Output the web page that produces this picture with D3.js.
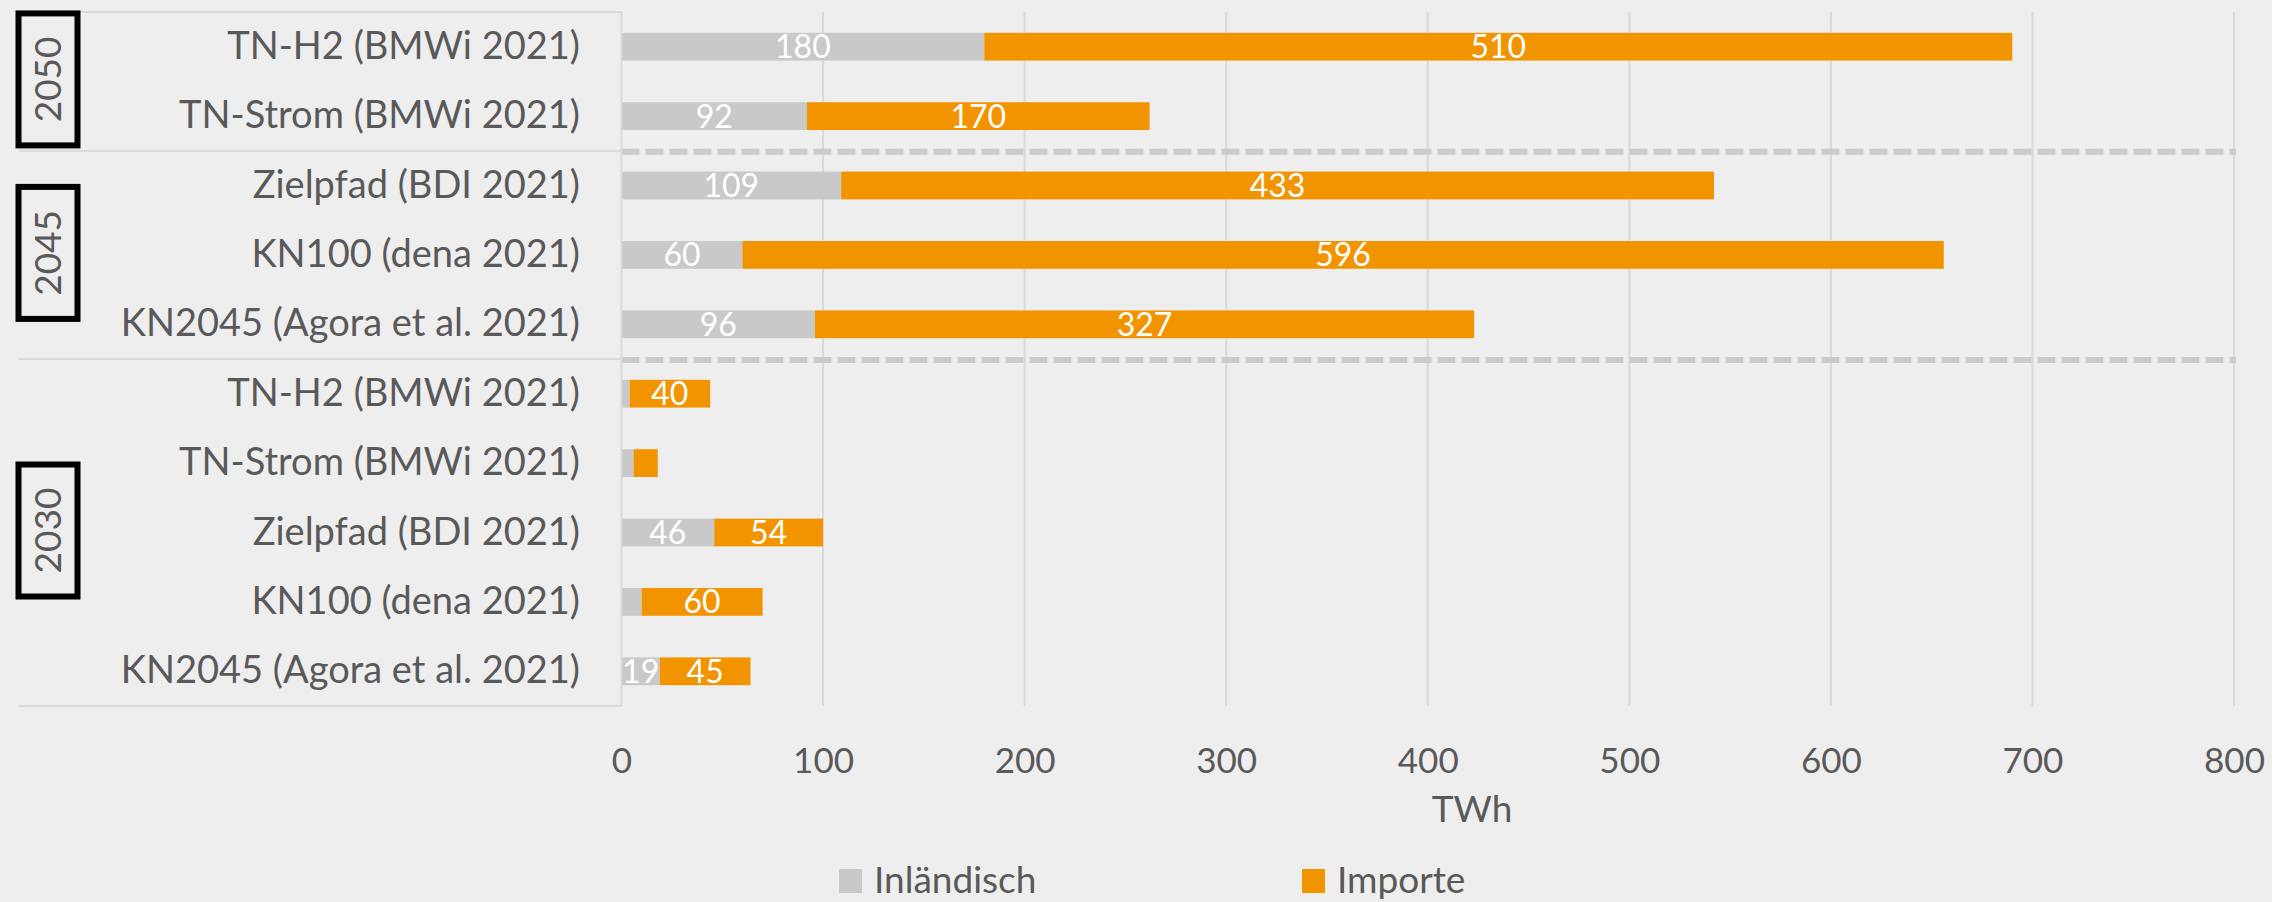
<!DOCTYPE html>
<html>
<head>
<meta charset="utf-8">
<script src="https://cdn.jsdelivr.net/npm/d3@7"></script>
<style>
  html,body{margin:0;padding:0;background:#eeeeee;}
  svg{display:block;font-family:Lato,"Open Sans",sans-serif;}
</style>
</head>
<body>
<svg id="chart" width="2272" height="902"></svg>
<script>
// scenarios, top to bottom
const labels=["TN-H2 (BMWi 2021)","TN-Strom (BMWi 2021)","Zielpfad (BDI 2021)","KN100 (dena 2021)","KN2045 (Agora et al. 2021)",
  "TN-H2 (BMWi 2021)","TN-Strom (BMWi 2021)","Zielpfad (BDI 2021)","KN100 (dena 2021)","KN2045 (Agora et al. 2021)"]
const rowYear=["2050","2050","2045","2045","2045","2030","2030","2030","2030","2030"]
const years=["2050","2045","2030"]
const inland=[180,92,109,60,96,4,6,46,10,19]
const importe=[510,170,433,596,327,40,12,54,60,45]
const ticks=[0,100,200,300,400,500,600,700,800]
const seriesNames=["Inländisch","Importe"]
const colors=["#c9c9c9","#f29400"]

const svg=d3.select("#chart")
const x=d3.scaleLinear().domain([0,800]).range([621.5,2234])
const idx=d3.range(labels.length)
const y=d3.scaleBand().domain(idx).range([12,706]).paddingInner(0.6).paddingOuter(0.3)
const step=y.step()
const top0=y.range()[0]

// gridlines
svg.append("g").selectAll("line").data(ticks.slice(1)).join("line")
  .attr("x1",d=>x(d)).attr("x2",d=>x(d)).attr("y1",12).attr("y2",706)
  .attr("stroke","#d9d9d9").attr("stroke-width",2)

// group boundaries (index where new year starts)
const bounds=idx.filter(i=>i>0 && rowYear[i]!==rowYear[i-1])

// left panel lines
svg.append("g").selectAll("line").data([0,...bounds,labels.length]).join("line")
  .attr("x1",19).attr("x2",x(0))
  .attr("y1",d=>top0+d*step).attr("y2",d=>top0+d*step)
  .attr("stroke","#d9d9d9").attr("stroke-width",2)

// dashed separators
svg.append("g").selectAll("line").data(bounds).join("line")
  .attr("x1",x(0)).attr("x2",x(800)+2)
  .attr("y1",d=>top0+d*step+1).attr("y2",d=>top0+d*step+1)
  .attr("stroke","#cbcbcb").attr("stroke-width",6).attr("stroke-dasharray","18,6")

// stacked bars
const table=idx.map(i=>({i,inland:inland[i],importe:importe[i]}))
const stack=d3.stack().keys(["inland","importe"])(table)
const layers=svg.append("g").selectAll("g").data(stack).join("g").attr("fill",(d,k)=>colors[k])
layers.selectAll("rect").data(d=>d).join("rect")
  .attr("x",d=>x(d[0])).attr("width",d=>x(d[1])-x(d[0]))
  .attr("y",d=>y(d.data.i)).attr("height",y.bandwidth())

// value labels
layers.selectAll("text").data(d=>d.filter(s=>s[1]-s[0]>=15)).join("text")
  .attr("x",d=>(x(d[0])+x(d[1]))/2).attr("y",d=>y(d.data.i)+y.bandwidth()/2)
  .attr("dy","0.36em").attr("text-anchor","middle")
  .attr("fill","#ffffff").attr("font-size",32)
  .text(d=>d[1]-d[0])

// zero axis line
svg.append("line").attr("x1",x(0)).attr("x2",x(0)).attr("y1",12).attr("y2",706)
  .attr("stroke","#d9d9d9").attr("stroke-width",2)

// category labels
svg.append("g").selectAll("text").data(idx).join("text")
  .attr("x",580).attr("y",i=>y(i)+y.bandwidth()/2+12)
  .attr("text-anchor","end").attr("fill","#595959").attr("font-size",38)
  .text(i=>labels[i])

// year boxes
const groups=years.map(yr=>{
  const rows=idx.filter(i=>rowYear[i]===yr)
  return {yr,c:top0+(d3.min(rows)+d3.max(rows)+1)/2*step}
})
const yb=svg.append("g").selectAll("g").data(groups).join("g")
  .attr("transform",d=>`translate(48,${d.c-2})`)
yb.append("rect").attr("x",-29.5).attr("y",-66).attr("width",59).attr("height",132)
  .attr("fill","#eeeeee").attr("stroke","#000").attr("stroke-width",6)
yb.append("text").attr("transform","rotate(-90)").attr("text-anchor","middle")
  .attr("dy","0.36em").attr("fill","#595959").attr("font-size",37).text(d=>d.yr)

// x axis tick labels
const ax=svg.append("g").attr("transform","translate(0,706)")
  .call(d3.axisBottom(x).tickValues(ticks).tickSize(0).tickPadding(42))
ax.select(".domain").remove()
ax.selectAll("text").attr("font-size",35).attr("fill","#595959").attr("font-family","Lato,sans-serif")

svg.append("text").attr("x",1472).attr("y",822).attr("text-anchor","middle")
  .attr("fill","#595959").attr("font-size",37).text("TWh")

// legend
const legX=[839,1302]
const lg=svg.append("g").selectAll("g").data(seriesNames).join("g")
  .attr("transform",(d,k)=>`translate(${legX[k]},869)`)
lg.append("rect").attr("width",23).attr("height",24).attr("fill",(d,k)=>colors[k])
lg.append("text").attr("x",35).attr("y",24).attr("fill","#595959").attr("font-size",37).text(d=>d)
</script>
</body>
</html>
